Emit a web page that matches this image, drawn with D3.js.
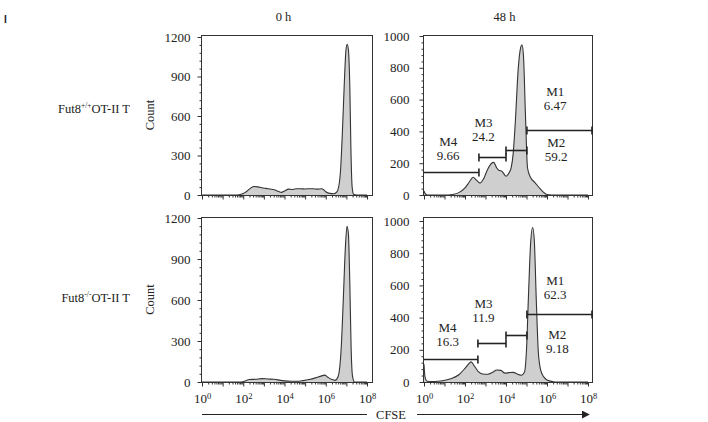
<!DOCTYPE html>
<html><head><meta charset="utf-8">
<script src="https://cdn.jsdelivr.net/npm/d3@7"></script>
<style>
body{margin:0;background:#fff;}
text{font-family:"Liberation Serif","Times New Roman",serif;fill:#222;}
</style></head>
<body><svg id="c" width="708" height="422"></svg>
<script>
// ---- data (x = log10 CFSE, y = count) ----
const columnTitles = ["0 h", "48 h"];
const rowLabels = [["Fut8", "+/+", "OT-II  T"], ["Fut8", "-/-", "OT-II T"]];
const xTickExponents = [0, 2, 4, 6, 8];
const yTicks0h = [0, 300, 600, 900, 1200];
const yTicks48h = [0, 200, 400, 600, 800, 1000];

const hist0hWT = [[0,0],[1.7,0],[1.9,5],[2.1,20],[2.3,45],[2.5,65],[2.7,62],[2.9,55],[3.1,50],[3.3,45],[3.5,40],[3.7,28],[3.85,20],[4.0,30],[4.2,45],[4.4,42],[4.6,48],[4.8,47],[5.0,46],[5.2,48],[5.4,47],[5.6,45],[5.8,47],[5.9,40],[6.0,25],[6.2,12],[6.4,10],[6.55,25],[6.7,150],[6.8,450],[6.9,850],[6.98,1100],[7.04,1145],[7.1,1100],[7.17,800],[7.22,350],[7.28,60],[7.35,5],[7.5,0],[8,0]];
const hist48hWT = [[0,25],[0.05,10],[0.15,0],[1.2,0],[1.4,3],[1.7,15],[2.0,45],[2.2,80],[2.4,112],[2.55,95],[2.73,75],[2.9,100],[3.1,160],[3.3,200],[3.4,205],[3.55,170],[3.65,155],[3.8,150],[4.0,118],[4.15,140],[4.25,170],[4.35,260],[4.45,450],[4.6,800],[4.72,930],[4.78,945],[4.85,880],[4.95,500],[5.05,170],[5.2,110],[5.4,80],[5.66,40],[5.85,15],[6.0,3],[6.2,0],[8,0]];
const hist0hKO = [[0,0],[1.9,0],[2.1,8],[2.3,18],[2.6,20],[2.9,25],[3.2,22],[3.5,20],[3.8,12],[4.0,8],[4.3,5],[4.6,5],[4.9,10],[5.2,18],[5.5,30],[5.8,45],[5.95,50],[6.1,35],[6.3,18],[6.45,12],[6.6,40],[6.75,250],[6.85,600],[6.95,980],[7.03,1140],[7.1,1080],[7.17,700],[7.23,250],[7.3,40],[7.4,0],[8,0]];
const hist48hKO = [[0,110],[0.05,30],[0.15,5],[0.5,3],[0.9,8],[1.3,20],[1.7,45],[2.0,85],[2.2,115],[2.3,125],[2.45,100],[2.65,65],[2.85,50],[3.1,48],[3.35,60],[3.55,75],[3.75,72],[3.95,55],[4.15,58],[4.35,60],[4.55,50],[4.75,42],[4.9,60],[5.0,200],[5.1,550],[5.2,860],[5.3,960],[5.38,880],[5.48,500],[5.58,180],[5.7,70],[5.85,30],[6.0,12],[6.3,2],[6.5,0],[8,0]];

// gates: [name, percent, fromLog, toLog, countLevel]
const gates48hWT = [["M1","6.47",5.02,8.2,410],["M2","59.2",4.0,5.02,285],["M3","24.2",2.68,4.0,242],["M4","9.66",0,2.68,145]];
const gates48hKO = [["M1","62.3",5.02,8.2,420],["M2","9.18",4.0,5.02,295],["M3","11.9",2.63,4.0,245],["M4","16.3",0,2.63,144]];
// gate label anchors [log x, count of first line]
const labels48hWT = {M1:[6.4,620],M2:[6.45,300],M3:[2.9,430],M4:[1.18,310]};
const labels48hKO = {M1:[6.4,600],M2:[6.5,270],M3:[2.9,460],M4:[1.15,310]};

// ---- layout ----
const svg = d3.select("#c");
const cols = [{x0:201, x1:372, r0:202, r1:367}, {x0:423, x1:592, r0:424, r1:588}];
const rows = [{top:35, bottom:195}, {top:217, bottom:382}];
const panels = [
  {r:0,c:0,data:hist0hWT,max:1200,ticks:yTicks0h,minorStep:60,topVal:37},
  {r:0,c:1,data:hist48hWT,max:1000,ticks:yTicks48h,minorStep:40,topVal:36,gates:gates48hWT,labels:labels48hWT},
  {r:1,c:0,data:hist0hKO,max:1200,ticks:yTicks0h,minorStep:60,topVal:218},
  {r:1,c:1,data:hist48hKO,max:1000,ticks:yTicks48h,minorStep:40,topVal:221,gates:gates48hKO,labels:labels48hKO}
];

svg.append("text").attr("x",4).attr("y",23).style("font-family","Liberation Sans, Arial, sans-serif").style("font-weight","bold").style("font-size","10px").text("I");

columnTitles.forEach((t,i)=>{
  const c = cols[i];
  svg.append("text").attr("x",(c.x0+c.x1)/2 - 3).attr("y",21).attr("text-anchor","middle").style("font-size","12.5px").text(t);
});

rowLabels.forEach((l,i)=>{
  const cy = i===0 ? 113 : 302;
  const t = svg.append("text").attr("x",130).attr("y",cy).attr("text-anchor","end").style("font-size","12.5px");
  t.append("tspan").text(l[0]);
  t.append("tspan").attr("dy",-5).style("font-size","7.5px").text(l[1]);
  t.append("tspan").attr("dy",5).text(l[2]);
  const rr = rows[i];
  svg.append("text").attr("transform",`translate(154,${(rr.top+rr.bottom)/2}) rotate(-90)`).attr("text-anchor","middle").style("font-size","12.5px").text("Count");
});

function supLabel(sel){
  sel.each(function(d){
    const t = d3.select(this); t.text("");
    t.append("tspan").text("10");
    t.append("tspan").attr("dy","-0.45em").style("font-size","8.5px").text(Math.round(Math.log10(d)));
  });
}

panels.forEach(p=>{
  const c = cols[p.c], rr = rows[p.r];
  const x = d3.scaleLog().domain([1,1e8]).range([c.r0,c.r1]);
  const y = d3.scaleLinear().domain([0,p.max]).range([rr.bottom,p.topVal]);
  const g = svg.append("g");

  // histogram
  const area = d3.area().x(d=>x(Math.pow(10,d[0]))).y0(y(0)).y1(d=>y(d[1])).curve(d3.curveMonotoneX);
  const line = d3.line().x(d=>x(Math.pow(10,d[0]))).y(d=>y(d[1])).curve(d3.curveMonotoneX);
  g.append("path").datum(p.data).attr("d",area).attr("fill","#cfcfcf");
  g.append("path").datum(p.data).attr("d",line).attr("fill","none").attr("stroke","#333").attr("stroke-width",1.1);

  // frame
  g.append("rect").attr("x",c.x0+0.5).attr("y",rr.top+0.5).attr("width",c.x1-c.x0).attr("height",rr.bottom-rr.top)
    .attr("fill","none").attr("stroke","#333").attr("stroke-width",1);

  // y axis
  const minor = d3.range(0,p.max+1,p.minorStep).filter(v=>!p.ticks.includes(v));
  const ya = g.append("g").attr("transform",`translate(${c.x0+0.5},0)`)
    .call(d3.axisLeft(y).tickValues(p.ticks).tickFormat(d3.format("d")).tickSize(4).tickPadding(p.c===0?7:10).tickSizeOuter(0));
  ya.select(".domain").remove();
  ya.selectAll("text").style("font-size","13px").style("font-family","Liberation Serif, serif").attr("fill","#222");
  const ym = g.append("g").attr("transform",`translate(${c.x0+0.5},0)`)
    .call(d3.axisLeft(y).tickValues(minor).tickSize(2).tickFormat("").tickSizeOuter(0));
  ym.select(".domain").remove();

  // x axis
  const decades = d3.range(0,9).map(e=>Math.pow(10,e));
  const xminor = [];
  for(let e=0;e<8;e++) for(let k=2;k<10;k++) xminor.push(k*Math.pow(10,e));
  const xa = g.append("g").attr("transform",`translate(0,${rr.bottom+0.5})`)
    .call(d3.axisBottom(x).tickValues(decades).tickSize(4).tickPadding(7).tickSizeOuter(0)
      .tickFormat(d=> p.r===1 && xTickExponents.includes(Math.round(Math.log10(d))) ? "10" : ""));
  xa.select(".domain").remove();
  xa.selectAll("text").style("font-size","13px").style("font-family","Liberation Serif, serif").attr("fill","#222");
  if(p.r===1){ xa.selectAll("text").filter(function(){return this.textContent!=="";}).call(supLabel); }
  const xm = g.append("g").attr("transform",`translate(0,${rr.bottom+0.5})`)
    .call(d3.axisBottom(x).tickValues(xminor).tickSize(2).tickFormat("").tickSizeOuter(0));
  xm.select(".domain").remove();
  g.selectAll(".tick line").attr("stroke","#333");

  // gates
  if(p.gates){
    p.gates.forEach(gt=>{
      const [name,pct,f,t,lvl] = gt;
      const xa0 = Math.max(x(Math.pow(10,f)), c.x0), xa1 = Math.min(x(Math.pow(10,t)), c.x1);
      const yy = Math.round(y(lvl))+0.5;
      g.append("line").attr("x1",xa0).attr("x2",xa1).attr("y1",yy).attr("y2",yy).attr("stroke","#222").attr("stroke-width",1.6);
      if(f>0) g.append("line").attr("x1",xa0).attr("x2",xa0).attr("y1",yy-4).attr("y2",yy+4).attr("stroke","#222").attr("stroke-width",1.6);
      g.append("line").attr("x1",xa1).attr("x2",xa1).attr("y1",yy-4).attr("y2",yy+4).attr("stroke","#222").attr("stroke-width",1.6);
      const la = p.labels[name];
      const lx = x(Math.pow(10,la[0])), ly = y(la[1]);
      g.append("text").attr("x",lx).attr("y",ly).attr("text-anchor","middle").style("font-size","13px").text(name);
      g.append("text").attr("x",lx).attr("y",ly+14).attr("text-anchor","middle").style("font-size","13px").text(pct);
    });
  }
});

// CFSE arrow
const defs = svg.append("defs");
defs.append("marker").attr("id","ah").attr("viewBox","0 0 10 10").attr("refX",9).attr("refY",5)
  .attr("markerWidth",8).attr("markerHeight",8).attr("markerUnits","userSpaceOnUse").attr("orient","auto")
  .append("path").attr("d","M0,0 L10,5 L0,10 Z").attr("fill","#222");
svg.append("line").attr("x1",202).attr("x2",367).attr("y1",414.5).attr("y2",414.5).attr("stroke","#222").attr("stroke-width",1.1);
svg.append("line").attr("x1",417).attr("x2",589).attr("y1",414.5).attr("y2",414.5).attr("stroke","#222").attr("stroke-width",1.1).attr("marker-end","url(#ah)");
svg.append("text").attr("x",391).attr("y",419).attr("text-anchor","middle").style("font-size","12.5px").text("CFSE");
</script></body></html>
